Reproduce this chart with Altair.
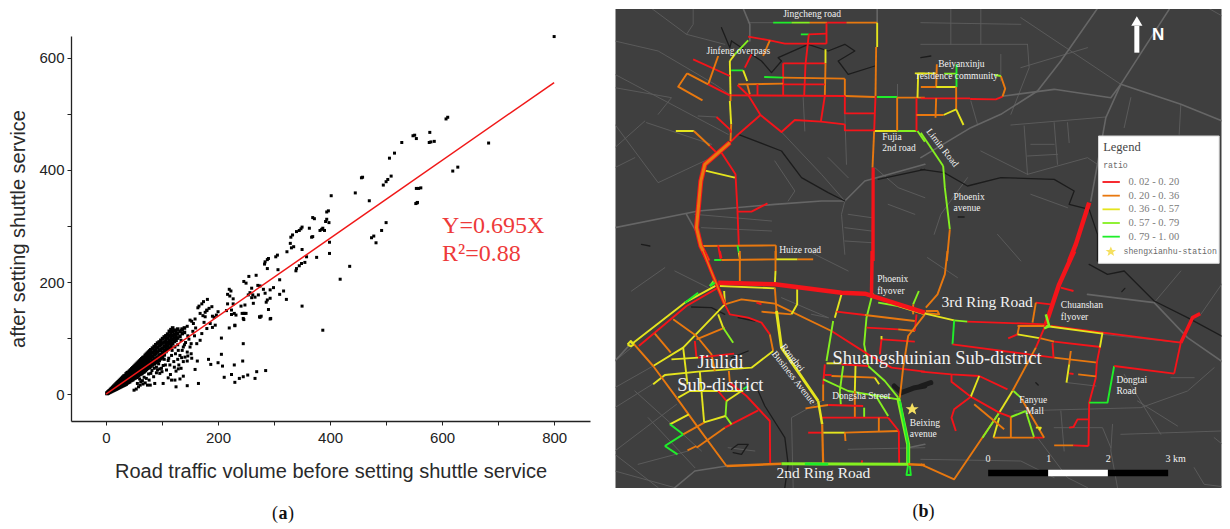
import altair as alt
import pandas as pd

# ---------- panel (a): values ----------
SPARSE_POINTS = [
 (800,638),(610,494),(607,491),(551,462),(554,456),(548,461),(578,467),(528,449),(577,449),(586,451),(580,450),
 (683,448),(515,430),(506,421),(628,405),(619,398),(458,387),(456,386),(509,389),(503,383),(500,379),(495,373),
 (445,359),(402,354),(470,345),(558,367),(554,367),(562,368),(556,342),(555,341),(553,340),(397,327),(394,325),(500,306),
 (492,292),(478,282),(474,279),(482,270),(369,315),(372,313),(394,312),(392,308),(398,306),(363,296),(350,298),
 (345,292),(340,290),(348,295),(333,284),(330,280),(329,269),(387,296),(382,292),(390,292),(385,294),(367,280),(369,281),
 (335,263),(331,261),(350,258),(323,254),(399,271),(399,251),(376,244),(358,245),(355,235),(349,233),(345,229),(340,224),
 (339,220),(435,228),(418,205),(387,114),(306,248),(303,245),(288,240),(284,236),(290,242),(283,232),(288,224),(307,222),
 (310,204),(268,212),(255,210),(246,201),(250,198),(275,193),(271,194),(260,189),(257,181),(254,177),(262,177),(272,177),
 (266,173),(260,172),(293,186),(299,190),(281,187),(284,180),(317,184),(310,178),(322,169),(293,171),(288,168),(286,164),
 (263,162),(248,159),(241,157),(290,151),(350,157),(247,144),(243,144),(250,144),(246,133),(274,138),(277,139),(293,134),
 (230,123),(220,118),(220,187),(223,184),(217,178),(221,175),(227,170),(217,161),(227,161),(224,150),(229,144),(232,141),
 (224,142),(181,169),(174,165),(171,161),(164,154),(189,156),(184,153),(180,149),(177,146),(200,147),(197,141),(190,139),
 (168,144),(173,140),(177,138),(215,149),(153,130),(159,134),(195,123),(190,119),(175,128),(125,13),(145,15),(165,19),
 (138,32),(132,27),(123,25),(117,25),(111,29),(115,35),(108,43),(102,19),(87,19),(79,16),(74,16),(61,16),(58,13),(54,9),(50,7),
 (134,46),(129,45),(125,41),(159,44),(135,65),(145,59),(163,59),(153,64),(183,62),(187,53),(200,56),(206,71),(208,50),
 (229,52),(244,59),(245,90),(206,100),(211,30),(224,35),(230,21),(238,28),(245,31),(253,34),(266,28),(269,40),(285,42),
 (230,122),(245,135),(275,137),(294,135),(246,144),(166,157),(180,150),(150,132),(156,126),(145,121),(135,114),
 (193,137),(186,126),(180,117),(171,108),(168,96),(162,90),(150,84),(145,75),(132,69),(141,66),(129,78),(123,84),
 (138,84),(117,69),(111,60),(102,51),(96,45),(90,38),(85,31),(77,25),(96,37),(92,43),(148,98),(142,92),(155,112),(160,118),
 (134,96),(128,62),(121,58),(114,52),(100,40),(82,42),(76,36),(68,30),(60,27),(70,20),(65,24),(56,19),(90,48),(104,62),
 (158,104),(152,90),(146,104),(140,88),(136,78),(128,88),(124,72),(118,78),(112,64),(106,52),(99,46),(94,54),(86,46),
 (80,37),(72,28),(66,18),(62,22),(152,72),(146,68),(138,58),(130,52),(122,48),
]
DENSE_COLUMNS = {
 2:[1,2],4:[2,3,4],6:[3,5,6],8:[4,6,8],10:[5,7,9,10],12:[6,8,10,12],14:[7,9,12,14],16:[8,11,13,16],18:[9,12,15,18],
 20:[10,13,16,18,20],22:[11,14,17,20,22],24:[12,16,19,22,24],26:[13,17,20,23,26],28:[14,18,22,25,28],30:[15,20,23,26,30],
 32:[16,21,25,28,32],34:[17,22,26,30,33],36:[18,24,28,32,36],38:[20,25,30,34,38],40:[21,27,31,35,39],42:[22,28,33,37,41],
 44:[24,29,34,39,43],46:[25,31,36,41,45],48:[26,32,37,42,47],50:[28,33,39,44,49],52:[29,35,41,46,51],54:[30,36,42,48,53],
 56:[32,38,44,49,55],58:[33,40,46,52,57],60:[35,41,48,54,59],62:[36,43,50,56,61],64:[37,44,51,58,63],66:[39,46,53,59,65],
 68:[40,48,55,61,66],70:[42,49,56,62,69],72:[44,51,58,65,71],74:[46,53,60,67,73],76:[47,54,61,68,75],78:[48,56,63,70,77],
 80:[50,57,65,72,79],83:[52,60,67,74,82],86:[54,62,70,77,85],89:[56,64,72,80,88],92:[58,66,75,83,91],95:[60,69,78,86,93],
 98:[63,71,80,88,96],101:[65,74,82,91,99],104:[70,78,85,93,102],107:[76,82,89,97,104],110:[80,86,92,100,107],113:[82,90,96,104,112],
 116:[85,94,100,108,115],119:[90,97,104,112,118],122:[94,100,106,114],125:[96,104,112],128:[100,108,116],132:[103,112],136:[108,116],140:[110,118],
}
FIT_X = [0, 800]
FIT_Y = [0, 556]

sparse_df = pd.DataFrame(SPARSE_POINTS, columns=["x", "y"])
dense_df = pd.DataFrame([(x, y) for x, ys in DENSE_COLUMNS.items() for y in ys], columns=["x", "y"])
fit_df = pd.DataFrame({"x": FIT_X, "y": FIT_Y})
note_df = pd.DataFrame({"x": [600, 600], "y": [300, 250], "t": ["Y=0.695X", "R\u00b2=0.88"]})

LX = alt.Scale(domain=[-62.5, 864], nice=False, zero=False)
LY = alt.Scale(domain=[-48, 639], nice=False, zero=False)
lx = alt.X("x:Q", scale=LX, axis=alt.Axis(
    values=list(range(0, 801, 100)), labelExpr="datum.value % 200 == 0 ? datum.label : ''",
    title="Road traffic volume before setting shuttle service", grid=False, titleFontSize=20,
    titleFont="Liberation Sans", titleFontWeight="normal", titleColor="#2a2a2a", titlePadding=16,
    labelFont="Liberation Sans", labelFontSize=15, labelColor="#222", tickColor="#222",
    domainColor="#222", domainWidth=1.3, tickSize=4, labelPadding=5))
ly = alt.Y("y:Q", scale=LY, axis=alt.Axis(
    values=list(range(0, 601, 100)), labelExpr="datum.value % 200 == 0 ? datum.label : ''",
    title="after setting shuttle service", grid=False, titleFontSize=20,
    titleFont="Liberation Sans", titleFontWeight="normal", titleColor="#2a2a2a", titlePadding=10,
    labelFont="Liberation Sans", labelFontSize=15, labelColor="#222", tickColor="#222",
    domainColor="#222", domainWidth=1.3, tickSize=4, labelPadding=3))

scatter = alt.Chart(sparse_df).mark_square(color="black", size=9, opacity=1).encode(x=lx, y=ly)
dense = alt.Chart(dense_df).mark_square(color="black", size=13, opacity=1).encode(x="x:Q", y="y:Q")
fit = alt.Chart(fit_df).mark_line(color="#f01818", strokeWidth=1.5).encode(x="x:Q", y="y:Q")
note = alt.Chart(note_df).mark_text(color="#ee3a3a", font="Liberation Serif", fontSize=24, align="left").encode(
    x="x:Q", y="y:Q", text="t:N")

def caption(letter, px, py):
    plain_part = alt.Chart(pd.DataFrame({"t": ["("]})).mark_text(
        font="Liberation Serif", fontSize=18, color="#111").encode(x=alt.value(px - 8), y=alt.value(py), text="t:N")
    close_part = alt.Chart(pd.DataFrame({"t": [")"]})).mark_text(
        font="Liberation Serif", fontSize=18, color="#111").encode(x=alt.value(px + 8), y=alt.value(py), text="t:N")
    bold_part = alt.Chart(pd.DataFrame({"t": [letter]})).mark_text(
        font="Liberation Serif", fontSize=18, fontWeight="bold", color="#111").encode(
        x=alt.value(px), y=alt.value(py), text="t:N")
    return plain_part, close_part, bold_part

cap_a = caption("a", 212, 478)
left = alt.layer(scatter, dense, fit, note, *cap_a).properties(width=519, height=385)
spacer = alt.Chart(pd.DataFrame({"a": [0]})).mark_point(opacity=0, size=1).encode(x=alt.value(2), y=alt.value(1)).properties(width=519, height=1)
left_col = alt.vconcat(spacer, left, spacing=24)

# ---------- panel (b): road network, coordinates read per map quadrant ----------
QUADRANT_ORIGIN = {"NW": (0, 0), "NE": (918, 0), "SW": (0, 750), "SE": (918, 750)}

BASE_ROADS = {
 "NW": [[(0,120),(130,150),(300,250),(345,280)],[(0,220),(340,400)],[(110,22),(215,100),(330,130)],[(235,22),(235,70),(215,100)],
        [(400,65),(785,65)],[(0,370),(130,545),(290,470),(340,425)],[(95,365),(290,430)],[(250,345),(305,348)],
        [(500,393),(620,520),(690,600)],[(640,470),(700,530)],[(690,340),(695,490)],[(700,640),(770,650)],[(690,680),(770,690)],
        [(690,720),(770,725)],[(690,600),(680,640),(690,760)],[(0,260),(170,290),(130,340)],[(0,440),(90,360)],[(0,500),(60,470)],
        [(780,500),(850,560),(930,590)],[(820,610),(900,640)],[(240,640),(470,660)],[(260,680),(470,690)],[(565,290),(570,390)],
        [(848,250),(848,290)],[(480,480),(540,570),(520,600)]],
 "NE": [[(270,372),(555,348)],[(300,50),(600,250)],[(0,65),(300,70)],[(90,22),(90,130)],[(180,22),(180,130)],
        [(320,130),(325,200),(270,340)],[(180,450),(320,520),(500,470),(530,490)],[(310,375),(320,520)],[(400,365),(410,490)],
        [(440,365),(445,425)],[(330,430),(400,430)],[(320,465),(410,460)],[(780,310),(775,400)],[(240,160),(240,240)],
        [(300,200),(500,140)],[(0,130),(320,130)],[(150,300),(170,370)],[(140,530),(60,640),(40,700)],[(230,700),(300,780)],
        [(330,580),(440,620)],[(630,290),(610,380)],[(860,20),(930,60)]],
 "SW": [[(0,330),(50,290)],[(0,410),(115,345)],[(0,470),(160,370)],[(0,600),(185,460)],[(0,610),(130,710)],[(0,660),(180,710)],
        [(60,420),(260,600)],[(100,500),(240,650)],[(535,710),(530,500),(620,450)],[(340,590),(420,600)],[(50,120),(150,50)],
        [(180,60),(280,110)],[(500,140),(640,200)],[(70,640),(220,600)],[(590,190),(640,200)],[(580,0),(700,60)],
        [(930,590),(700,595)]],
 "SE": [[(545,250),(780,275)],[(280,480),(660,470),(800,420),(880,350)],[(575,520),(570,600),(590,710)],[(350,560),(440,680),(500,710)],
        [(0,625),(300,630),(400,680)],[(820,650),(850,700),(930,710)],[(610,370),(720,550)],[(400,530),(545,530),(570,590)],
        [(780,60),(700,155)],[(930,60),(840,190)],[(750,380),(820,380)],[(440,395),(525,405)],[(420,480),(430,600)],
        [(650,450),(770,525)],[(600,550),(900,540)],[(880,560),(930,600)],[(20,20),(110,80)]],
}
MAJOR_ROADS = {
 "NW": [[(385,22),(405,70),(405,120)],[(787,22),(787,65)],[(0,680),(250,630),(480,610),(620,600),(690,600),(750,540),(930,490)],
        [(215,640),(260,720)]],
 "NE": [[(530,22),(420,180),(350,270),(240,340),(150,380),(0,470)],[(745,25),(600,250),(555,350),(510,600)],
        [(250,285),(400,265),(570,290),(600,250)],[(600,250),(780,310),(930,370)]],
 "SW": [[(0,330),(48,278)],[(180,710),(240,660),(335,645)],[(880,590),(930,580)]],
 "SE": [[(500,130),(700,155),(800,260),(930,350)]],
}
RIVERS = {
 "NW": [[(320,80),(345,140),(350,120)],[(350,120),(440,180),(470,215),(500,180),(490,170),(580,130),(640,150),(690,130),(720,150),(670,180),(700,220),(780,195)],
        [(370,400),(500,450),(560,530),(640,575),(690,600)],[(790,535),(930,505)],[(80,730),(105,735)]],
 "NE": [[(0,505),(70,515),(140,555),(240,530),(400,535),(460,570),(445,610),(505,625),(530,700),(530,780)],[(0,170),(30,165)],[(112,648),(130,648)]],
 "SW": [[(230,168),(290,170),(330,190)],[(370,200),(420,210)],[(430,420),(450,465),(510,560),(520,640),(510,710)],[(350,320),(400,300)],
        [(350,595),(370,580),(400,580),(380,610),(355,605)]],
 "SE": [[(505,40),(560,70),(610,60),(700,150),(800,200),(930,270)],[(345,395),(352,402)],[(603,122),(612,112)]],
}
LAKES = {"SW": [[(838,405),(860,425),(900,410),(930,405)]], "SE": [[(0,405),(30,395)]]}

ROADS_NW = [
 ("G",[(475,65),(530,65)]),("L",[(530,65),(585,65)]),("O",[(585,65),(637,65)]),("R",[(637,65),(695,65)]),("O",[(695,65),(787,65)]),
 ("Y",[(787,65),(787,138)]),("O",[(784,138),(782,285)]),("R",[(782,285),(778,390)]),("O",[(778,390),(773,500)]),("R",[(773,500),(772,780)]),
 ("G",[(558,100),(582,100)]),("R",[(582,100),(635,98)]),("R",[(635,65),(635,128)]),("R",[(400,107),(465,118),(510,128),(635,128)]),
 ("R",[(582,100),(572,190),(568,285)]),("R",[(505,187),(632,187)]),("R",[(505,187),(505,283)]),("Y",[(632,145),(632,187)]),("O",[(632,187),(630,285)]),
 ("G",[(448,228),(505,230)]),("O",[(505,230),(690,233)]),("O",[(690,233),(690,285)]),("O",[(370,250),(505,248)]),("R",[(505,250),(630,250)]),
 ("R",[(345,283),(690,285)]),("O",[(690,285),(780,288)]),("G",[(786,288),(847,288)]),("O",[(847,290),(930,290)]),
 ("R",[(690,285),(690,337),(778,337)]),("R",[(630,285),(618,362)]),("R",[(690,370),(618,362),(540,357),(500,393),(437,342),(402,285),(368,252)]),
 ("R",[(690,370),(690,388),(778,388)]),("Y",[(780,390),(847,390)]),("L",[(847,390),(905,390)]),("O",[(847,290),(847,390)]),
 ("L",[(908,390),(930,422)]),("R",[(905,290),(905,390)]),("Y",[(910,218),(930,218)]),("Y",[(910,218),(908,290)]),("O",[(905,342),(930,342)]),
 ("R",[(437,342),(368,402),(345,425)]),
 ("Y",[(345,180),(347,280)]),("O",[(347,280),(347,300)]),("Y",[(345,300),(349,370)]),("O",[(349,370),(347,420)]),
 ("Y",[(345,180),(360,160)]),("L",[(360,160),(400,118)]),("G",[(349,208),(385,208)]),("Y",[(385,208),(397,240)]),("O",[(397,250),(405,280)]),
 ("R",[(235,175),(345,225)]),("O",[(310,165),(280,250)]),("O",[(217,217),(280,250)]),("R",[(280,250),(345,283)]),("O",[(217,217),(190,257),(263,298)]),
 ("R",[(305,348),(345,385),(349,395)]),("R",[(410,160),(390,200)]),("O",[(465,118),(445,165)]),("R",[(428,250),(428,283)]),
 ("Y",[(183,390),(237,390)]),("O",[(237,390),(285,435)]),("R",[(285,435),(310,460)]),
 ("R",[(320,455),(362,520),(368,630),(372,735)]),("Y",[(268,508),(360,530)]),("R",[(368,632),(410,632),(458,607)]),
 ("O",[(258,735),(483,733)]),("R",[(310,733),(318,778)]),("G",[(368,733),(372,755)]),("Y",[(372,755),(376,778)]),("O",[(483,733),(483,775)]),
]
ROADS_NE = [
 ("Y",[(-18,217),(48,217)]),("L",[(70,218),(108,218)]),("O",[(48,190),(46,258)]),("O",[(0,258),(46,258)]),("Y",[(46,258),(106,258)]),("G",[(107,190),(107,258)]),
 ("R",[(0,292),(148,292)]),("R",[(148,294),(225,295),(245,287)]),("O",[(245,287),(253,263),(240,225)]),("L",[(222,222),(240,225)]),
 ("O",[(106,258),(106,325)]),("Y",[(106,325),(128,372)]),("Y",[(68,342),(106,325)]),("O",[(0,342),(68,342)]),("O",[(46,292),(44,350)]),
 ("L",[(0,395),(67,495)]),("L",[(67,495),(72,560),(87,685)]),("O",[(87,685),(78,780)]),
]
ROADS_SW = [
 ("R",[(315,0),(320,22)]),("G",[(298,27),(320,27)]),("O",[(320,27),(482,25)]),("Y",[(482,25),(548,25)]),("O",[(548,25),(595,25)]),
 ("O",[(375,0),(375,90)]),("O",[(482,0),(482,60)]),("Y",[(482,60),(480,100)]),
 ("O",[(330,95),(480,100)]),("Y",[(315,105),(480,112)]),("Y",[(328,120),(330,160)]),
 ("L",[(770,140),(755,200),(748,280),(760,345),(810,390),(850,440)]),("G",[(880,640),(875,672),(888,672),(885,645)]),
 ("O",[(330,160),(380,145),(480,158),(650,240)]),("R",[(650,240),(760,310),(830,350),(930,362)]),
 ("O",[(440,182),(530,190)]),("Y",[(530,190),(547,160),(547,115)]),("O",[(480,110),(485,180)]),
 ("R",[(330,160),(345,190),(400,200),(440,215),(465,250)]),("O",[(465,250),(475,300)]),
 ("Y",[(475,300),(410,350),(250,362),(150,372),(115,400)]),("Y",[(330,160),(205,290),(115,345)]),
 ("Y",[(38,280),(48,270),(58,280),(48,286),(38,280)]),("Y",[(50,280),(210,155),(310,100)]),("R",[(72,285),(215,165),(310,110)]),
 ("O",[(58,280),(115,345),(185,440)]),("O",[(185,440),(250,530),(335,645)]),
 ("O",[(175,205),(245,255),(290,310),(300,360)]),("R",[(240,270),(245,320)]),("O",[(245,265),(330,230)]),("Y",[(310,190),(325,230)]),("L",[(325,230),(355,275)]),
 ("O",[(120,248),(168,305)]),("Y",[(205,290),(218,400)]),("Y",[(170,325),(250,320)]),("R",[(250,320),(358,308)]),
 ("O",[(342,360),(345,395)]),("R",[(345,395),(395,435),(465,510),(466,638)]),("R",[(430,478),(330,530)]),("O",[(330,530),(245,590)]),
 ("Y",[(165,520),(222,490)]),("G",[(165,520),(205,550)]),("Y",[(190,440),(225,420),(330,420)]),("Y",[(330,420),(385,420)]),("G",[(385,415),(400,405)]),
 ("L",[(335,450),(332,495),(350,520)]),("Y",[(265,515),(332,495)]),("Y",[(255,362),(268,515)]),("O",[(268,515),(205,550)]),("G",[(205,550),(150,585)]),("G",[(150,585),(188,610)]),
 ("O",[(218,598),(245,585)]),("R",[(310,420),(335,450)]),("Y",[(335,450),(380,420)]),
 ("Y",[(680,130),(660,200)]),("L",[(655,210),(650,240),(635,330)]),("R",[(630,340),(625,400)]),("O",[(625,400),(625,450)]),
 ("Y",[(635,337),(680,337)]),("R",[(680,340),(760,345)]),("R",[(630,372),(650,372)]),("O",[(650,375),(780,380)]),("Y",[(780,380),(793,400)]),
 ("L",[(625,385),(700,420),(850,445)]),("L",[(685,345),(675,420),(678,460)]),("Y",[(722,345),(720,420)]),("O",[(720,420),(720,500)]),("L",[(748,470),(748,500)]),
 ("O",[(572,472),(640,462)]),("R",[(640,462),(745,465)]),("R",[(620,500),(820,500)]),("O",[(792,500),(792,540)]),
 ("R",[(580,545),(622,545)]),("Y",[(622,545),(690,545)]),("O",[(690,545),(852,540)]),("O",[(690,545),(692,570)]),("R",[(852,540),(853,640)]),("R",[(820,500),(852,540)]),
 ("L",[(780,430),(820,495)]),("R",[(665,182),(750,192)]),("O",[(750,192),(900,210)]),("R",[(755,230),(850,235)]),("O",[(850,235),(900,240)]),("R",[(900,240),(905,190)]),
 ("R",[(800,265),(900,272)]),("R",[(795,310),(800,265)]),("Y",[(800,255),(800,265)]),("O",[(930,190),(880,255),(865,350),(855,440)]),
 ("L",[(895,160),(912,120)]),("O",[(895,190),(895,160)]),("L",[(790,155),(850,165)]),("Y",[(850,165),(930,190)]),
 ("R",[(740,640),(742,628)]),("R",[(425,155),(440,160)]),("L",[(285,105),(300,85)]),("G",[(210,155),(250,125)]),
 ("Y",[(770,125),(762,135),(778,135),(770,125)]),
]
ROADS_SE = [
 ("O",[(80,0),(72,70),(50,130),(15,170)]),("O",[(15,180),(50,180),(55,190),(0,185)]),("Y",[(0,185),(100,208)]),("L",[(100,208),(140,212)]),
 ("R",[(140,212),(375,220)]),("R",[(390,225),(780,275)]),("Y",[(375,225),(545,248)]),("G",[(100,208),(95,280)]),("R",[(95,280),(400,320)]),
 ("O",[(400,320),(530,335)]),("R",[(395,275),(398,320)]),("R",[(345,155),(390,160)]),("O",[(345,155),(335,215)]),("O",[(295,225),(290,250)]),
 ("R",[(290,250),(262,262)]),("O",[(290,225),(375,225)]),("Y",[(290,250),(360,262)]),("O",[(360,262),(400,272)]),("R",[(400,272),(540,288)]),
 ("Y",[(545,245),(537,290)]),("R",[(537,290),(528,335),(525,380),(505,455),(503,585)]),("G",[(580,345),(560,455),(505,455)]),
 ("O",[(450,300),(445,340)]),("Y",[(445,340),(437,395)]),("R",[(445,367),(458,369)]),("O",[(472,370),(525,376)]),
 ("R",[(503,505),(470,505),(458,528),(445,530)]),("O",[(400,583),(458,583)]),("R",[(458,583),(503,585)]),
 ("R",[(375,220),(345,290)]),("O",[(345,290),(275,420)]),("O",[(235,485),(100,685),(0,640)]),("Y",[(275,420),(235,485)]),("L",[(235,485),(185,560)]),
 ("R",[(0,362),(92,370),(175,375),(260,415)]),("R",[(92,370),(92,392),(150,437),(235,485)]),("Y",[(175,375),(150,437)]),
 ("R",[(150,437),(100,475),(92,500),(105,540)]),("R",[(235,485),(270,498)]),("L",[(270,498),(315,480)]),("L",[(315,480),(340,560)]),("O",[(270,498),(270,560)]),
 ("Y",[(235,500),(218,560)]),("O",[(218,560),(340,560)]),("R",[(340,560),(368,560)]),("L",[(278,420),(300,440)]),("O",[(300,440),(370,560)]),
 ("O",[(160,460),(250,535)]),("Y",[(345,530),(360,530),(355,538)]),
 ("R",[(760,368),(580,345)]),("R",[(780,275),(760,368)]),("R",[(420,110),(458,120)]),
]
THICK_ROADS_NW = [("R",[(345,425),(270,490),(258,540),(245,680),(258,735),(280,780)],5),("O",[(345,425),(270,490),(258,540),(245,680),(258,735),(280,780)],3),
                  ("R",[(776,780),(776,500)],2.5)]
THICK_ROADS_NE = [("R",[(505,605),(465,730),(445,780)],4.5)]
THICK_ROADS_SW = [("R",[(265,0),(295,75),(330,160)],3.5),("O",[(265,0),(295,75),(330,160)],1.5),
                  ("R",[(310,95),(480,100),(680,125),(750,128),(930,185)],4.5),("R",[(772,0),(770,130)],3.5),
                  ("L",[(850,440),(880,580),(880,640)],4),("G",[(855,450),(880,580),(880,640)],2),
                  ("Y",[(485,180),(500,290),(610,450)],3),("Y",[(610,450),(622,520)],2.5),("O",[(622,520),(625,640)],2.2),
                  ("O",[(335,645),(500,638)],2.5),("L",[(500,638),(880,640)],3),("O",[(880,640),(930,642)],2.5),
                  ("G",[(570,638),(640,640)],2.5),("G",[(300,95),(285,105)],2.5)]
THICK_ROADS_SE = [("R",[(460,0),(415,100),(385,190),(375,220)],4.5),("R",[(780,275),(815,200),(838,188)],3.5),
                  ("O",[(0,642),(2,642)],2.5),("L",[(375,190),(385,225),(370,232)],2.5)]

STATION = [(892, 475)]          # SW quadrant
SCALE_BLACK = [(202, 382), (561, 742)]
SCALE_WHITE = [(382, 561)]
SCALE_Y = (656, 676)

W, H = 606, 479
MX = alt.Scale(domain=[2, 1820], nice=False, zero=False)
MY = alt.Scale(domain=[24, 1461], nice=False, zero=False, reverse=True)
mx = alt.X("x:Q", scale=MX, axis=None)
my = alt.Y("y:Q", scale=MY, axis=None)

def line_rows(groups):
    rows, gid = [], 0
    for q, lines in groups:
        ox, oy = QUADRANT_ORIGIN[q]
        for cls, pts_, w in lines:
            gid += 1
            for i, (x, y) in enumerate(pts_):
                rows.append(dict(g=gid, o=i, x=x + ox, y=y + oy, c=cls, w=w))
    return pd.DataFrame(rows)

def plain(d, cls, w):
    return [(q, [(cls, l, w) for l in ls]) for q, ls in d.items()]

bg_df = line_rows(plain(BASE_ROADS, "b", 0.9) + plain(MAJOR_ROADS, "m", 1.6) + plain(RIVERS, "k", 1.3) + plain(LAKES, "k", 5))
road_df = line_rows(
    [("NW", [(c, p, 1.9) for c, p in ROADS_NW]), ("NE", [(c, p, 1.9) for c, p in ROADS_NE]),
     ("SW", [(c, p, 1.9) for c, p in ROADS_SW]), ("SE", [(c, p, 1.9) for c, p in ROADS_SE]),
     ("NW", THICK_ROADS_NW), ("NE", THICK_ROADS_NE), ("SW", THICK_ROADS_SW), ("SE", THICK_ROADS_SE)])

CLS = ["b", "m", "k", "R", "O", "Y", "L", "G"]
CLR = ["#5e5e5e", "#666666", "#1c1c1c", "#f5141a", "#e8780f", "#e4e41e", "#84f020", "#1fee2a"]
color = alt.Color("c:N", scale=alt.Scale(domain=CLS, range=CLR), legend=None)
lw = alt.StrokeWidth("w:Q", scale=None)

panel = alt.Chart(pd.DataFrame({"a": [0]})).mark_rect(color="#3f3f3f").encode(
    x=alt.value(0), x2=alt.value(W), y=alt.value(0), y2=alt.value(H))
bg = alt.Chart(bg_df).mark_line(clip=True, strokeCap="round", strokeJoin="round").encode(
    x=mx, y=my, detail="g:N", order="o:Q", color=color, strokeWidth=lw)
roads = alt.Chart(road_df).mark_line(clip=True, strokeCap="butt", strokeJoin="round").encode(
    x=mx, y=my, detail="g:N", order="o:Q", color=color, strokeWidth=lw)

def lab(q, x, y, t, s, a=0):
    ox, oy = QUADRANT_ORIGIN[q]
    return dict(x=x + ox, y=y + oy, t=t, s=s, a=a)

SMALL_LABELS = [
 ("NW",505,38,"Jingcheng road",9.5),("NW",275,150,"Jinfeng overpass",9.5),("NW",802,408,"Fujia",9.5),("NW",802,440,"2nd road",9.5),
 ("NW",493,748,"Huize road",9.5),("NE",52,190,"Beiyanxinju",9.5),("NE",-13,225,"residence community",9.5),("NE",98,587,"Phoenix",9.5),
 ("NE",98,622,"avenue",9.5),("SW",787,85,"Phoenix",9.5),("SW",787,120,"flyover",9.5),("SW",652,435,"Dongsha Street",9.5),
 ("SW",885,515,"Beixing",9.5),("SW",885,550,"avenue",9.5),("SE",295,447,"Fanyue",9.5),("SE",315,480,"Mall",9.5),
 ("SE",420,163,"Chuanshan",9.5),("SE",420,198,"flyover",9.5),("SE",587,387,"Dongtai",9.5),("SE",587,421,"Road",9.5),
 ("SE",194,625,"0",10),("SE",376,625,"1",10),("SE",555,625,"2",10),("SE",734,625,"3 km",10),
]
BIG_LABELS = [
 ("SW",248,332,"Jiulidi",18.5),("SW",187,403,"Sub-district",18.5),("SW",653,320,"Shuangshuinian Sub-district",18.5),
 ("SE",62,152,"3rd Ring Road",15.5),("SW",485,667,"2nd Ring Road",15.5),
]
ROTATED_LABELS = [("NE",65,440,"Limin Road",9.5,52),("SW",533,320,"Rongbei",9.5,52),("SW",537,380,"Business Avenue",9.5,52)]

lab_df = pd.DataFrame([lab(*r) for r in SMALL_LABELS + BIG_LABELS])
rot_df = pd.DataFrame([lab(*r) for r in ROTATED_LABELS])
texts = alt.Chart(lab_df).mark_text(font="Liberation Serif", color="#f2f2f2", align="left", baseline="middle").encode(
    x=mx, y=my, text="t:N", size=alt.Size("s:Q", scale=None))
rot_texts = alt.Chart(rot_df).mark_text(font="Liberation Serif", color="#f2f2f2", align="center", baseline="middle").encode(
    x=mx, y=my, text="t:N", size=alt.Size("s:Q", scale=None), angle=alt.Angle("a:Q", scale=None))

sx, sy = QUADRANT_ORIGIN["SE"]
scale_df = pd.DataFrame([dict(x=a + sx, x2=b + sx, y=SCALE_Y[0] + sy, y2=SCALE_Y[1] + sy, f="#000000") for a, b in SCALE_BLACK] +
                        [dict(x=a + sx, x2=b + sx, y=SCALE_Y[0] + sy, y2=SCALE_Y[1] + sy, f="#ffffff") for a, b in SCALE_WHITE])
scale_bar = alt.Chart(scale_df).mark_rect().encode(x=mx, x2="x2:Q", y=my, y2="y2:Q", color=alt.Color("f:N", scale=None))

nx, ny = QUADRANT_ORIGIN["NE"]
swx, swy = QUADRANT_ORIGIN["SW"]
star_shape = "M0,-1L0.29,-0.31L1,-0.31L0.43,0.12L0.62,0.81L0,0.38L-0.62,0.81L-0.43,0.12L-1,-0.31L-0.29,-0.31Z"
star = alt.Chart(pd.DataFrame([dict(x=STATION[0][0] + swx, y=STATION[0][1] + swy)])).mark_point(
    shape=star_shape, filled=True, color="#f5e060", size=170, opacity=1).encode(x=mx, y=my)

# north arrow
shaft_df = pd.DataFrame({"x": [648 + nx, 648 + nx], "y": [75, 155]})
shaft = alt.Chart(shaft_df).mark_line(color="white", strokeWidth=5).encode(x=mx, y=my)
head = alt.Chart(pd.DataFrame({"x": [648 + nx], "y": [60]})).mark_point(
    shape="triangle-up", filled=True, color="white", size=125, opacity=1).encode(x=mx, y=my)
north = alt.Chart(pd.DataFrame({"x": [712 + nx], "y": [103], "t": ["N"]})).mark_text(
    font="Liberation Sans", fontSize=17, fontWeight="bold", color="white").encode(x=mx, y=my, text="t:N")

# legend box
LEGEND_BOX = [(533, 405, 895, 787)]
LEGEND_ROWS = [("R", "0. 02 - 0. 20", 543), ("O", "0. 20 - 0. 36", 584), ("Y", "0. 36 - 0. 57", 625),
               ("L", "0. 57 - 0. 79", 666), ("G", "0. 79 - 1. 00", 707)]
bx = LEGEND_BOX[0]
box = alt.Chart(pd.DataFrame([dict(x=bx[0] + nx, x2=bx[2] + nx, y=bx[1], y2=bx[3])])).mark_rect(
    color="white", stroke="#d8d8d8", strokeWidth=1).encode(x=mx, x2="x2:Q", y=my, y2="y2:Q")
leg_line_df = pd.DataFrame([dict(g=i, x=x + nx, y=r[2], c=r[0], w=1.8) for i, r in enumerate(LEGEND_ROWS) for x in (545, 597)])
leg_lines = alt.Chart(leg_line_df).mark_line().encode(x=mx, y=my, detail="g:N", color=color, strokeWidth=lw)
leg_val = alt.Chart(pd.DataFrame([dict(x=623 + nx, y=r[2], t=r[1]) for r in LEGEND_ROWS])).mark_text(
    font="Liberation Serif", fontSize=10.5, color="#7a7a7a", align="left").encode(x=mx, y=my, text="t:N")
leg_title = alt.Chart(pd.DataFrame([dict(x=547 + nx, y=438, t="Legend")])).mark_text(
    font="Liberation Serif", fontSize=12.5, color="#444", align="left").encode(x=mx, y=my, text="t:N")
leg_ratio = alt.Chart(pd.DataFrame([dict(x=547 + nx, y=495, t="ratio"), dict(x=608 + nx, y=752, t="shengxianhu-station")])).mark_text(
    font="Liberation Mono", fontSize=8.2, color="#6a6a6a", align="left").encode(x=mx, y=my, text="t:N")
leg_star = alt.Chart(pd.DataFrame([dict(x=570 + nx, y=752)])).mark_point(
    shape=star_shape, filled=True, color="#f5e060", size=110, opacity=1).encode(x=mx, y=my)

cap_b = caption("b", 308, 503)

right = alt.layer(panel, bg, roads, texts, rot_texts, scale_bar, star, shaft, head, north, box,
                  leg_lines, leg_val, leg_title, leg_ratio, leg_star, *cap_b).properties(width=W, height=H)

chart = alt.hconcat(left_col, right, spacing=25.5).properties(
    padding={"left": 0, "top": 0, "right": 0, "bottom": 0}, background="white").configure_view(stroke=None)

chart.save("out.html", embed_options={"renderer": "svg", "actions": False})
